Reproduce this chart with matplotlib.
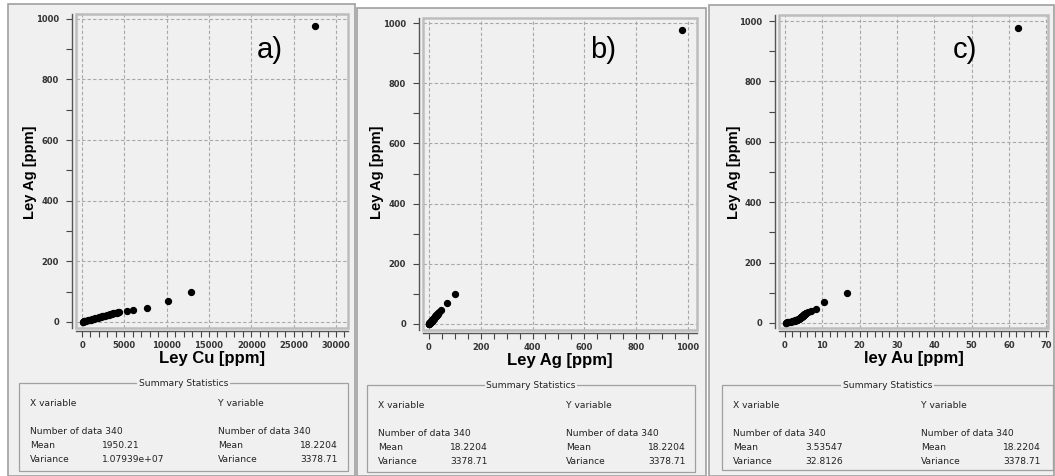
import matplotlib
matplotlib.use("Agg")
import matplotlib.pyplot as plt
from matplotlib.patches import Rectangle
from matplotlib.ticker import MultipleLocator

W, H = 1055, 476

# data (Ag shared by the three panels)
ley_ag = [0.5, 1, 1.5, 2, 3, 4, 5, 6, 7, 8, 9, 10, 11, 12, 13, 14, 15, 16, 17, 18,
          19, 20, 21, 22, 23, 24, 25, 26, 27, 28, 29, 30, 31, 32, 33, 36, 40, 46,
          69, 99, 977]
ley_cu = [60, 130, 200, 260, 400, 530, 660, 800, 930, 1060, 1190, 1320, 1450, 1590,
          1720, 1850, 1980, 2110, 2250, 2380, 2510, 2640, 2770, 2900, 3040, 3170,
          3300, 3430, 3560, 3700, 3830, 3960, 4090, 4220, 4370, 5300, 6000, 7700,
          10150, 12870, 27520]
ley_au = [0.2, 0.4, 0.6, 0.8, 1.2, 1.6, 2.0, 2.3, 2.6, 2.8, 3.0, 3.2, 3.35, 3.5,
          3.65, 3.8, 3.9, 4.0, 4.1, 4.2, 4.3, 4.4, 4.5, 4.6, 4.7, 4.8, 4.9, 5.0,
          5.1, 5.2, 5.3, 5.4, 5.5, 5.6, 5.7, 6.3, 7.0, 8.2, 10.5, 16.6, 62.5]

x_labels = ["Ley Cu [ppm]", "Ley Ag [ppm]", "ley Au [ppm]"]
letters = ["a)", "b)", "c)"]
stats_x = [("340", "1950.21", "1.07939e+07"),
           ("340", "18.2204", "3378.71"),
           ("340", "3.53547", "32.8126")]
stats_y = ("340", "18.2204", "3378.71")


def px(x, y):
    return x / W, 1 - y / H


def box(l, t, r, b):
    return [l / W, 1 - b / H, (r - l) / W, (b - t) / H]


fig = plt.figure(figsize=(W / 100, H / 100), dpi=100, facecolor="white")

# panel frames
panels = [(8, 4, 355, 476), (357, 8, 706, 476), (709, 5, 1054, 476)]
for l, t, r, b in panels:
    fig.add_artist(Rectangle(px(l, b), (r - l) / W, (b - t) / H, transform=fig.transFigure,
                             facecolor="#f0f0f0", edgecolor="#a0a0a0", lw=1.2, zorder=-5))

axes_pos = [(76, 14, 348, 328), (423, 18, 697, 330), (779, 15, 1048, 328)]
xlims = [(-710, 31420), (-23, 1035), (-1.6, 70.5)]
ylims = [(-20, 1016), (-20, 1017), (-17, 1020)]
xmajor = [5000, 200, 10]
xminor = [1000, 50, 2]
ylab_x = [30, 377, 734]
letter_x = [270, 603, 965]
xs = [ley_cu, ley_ag, ley_au]

for i in range(3):
    ax = fig.add_axes(box(*axes_pos[i]))
    ax.set_facecolor("#f0f0f0")
    ax.scatter(xs[i], ley_ag, s=18, color="black", zorder=3, clip_on=False)
    ax.set_xlim(*xlims[i])
    ax.set_ylim(*ylims[i])
    ax.xaxis.set_major_locator(MultipleLocator(xmajor[i]))
    ax.xaxis.set_minor_locator(MultipleLocator(xminor[i]))
    ax.yaxis.set_major_locator(MultipleLocator(200))
    ax.yaxis.set_minor_locator(MultipleLocator(100))
    ax.grid(True, which="major", color="#a8a8a8", lw=0.8, linestyle=(0, (3, 2)))
    ax.set_axisbelow(True)
    for s in ["top", "right"]:
        ax.spines[s].set_visible(False)
    ax.spines["left"].set_position(("outward", 3))
    ax.spines["bottom"].set_position(("outward", 2))
    for s in ["left", "bottom"]:
        ax.spines[s].set_color("#555555")
        ax.spines[s].set_linewidth(1.0)
    ax.add_patch(Rectangle((0, 0), 1, 1, transform=ax.transAxes, fill=False,
                           edgecolor="#bdbdbd", lw=1.8, clip_on=False, zorder=1))
    ax.tick_params(which="both", direction="out", length=4.3, width=0.8, color="#444444")
    ax.tick_params(axis="both", which="major", labelsize=6, labelcolor="#333333")
    ax.tick_params(axis="y", pad=5)
    ax.tick_params(axis="x", pad=3)
    for lab in ax.get_xticklabels() + ax.get_yticklabels():
        lab.set_fontweight("bold")
    ax.set_xlabel(x_labels[i], fontsize=12, fontweight="bold",
                  family="Liberation Sans", labelpad=1)
    fig.text(*px(ylab_x[i], 172), "Ley Ag [ppm]", rotation=90, ha="center", va="center",
             fontsize=10.5, fontweight="bold", family="Liberation Sans")
    fig.text(*px(letter_x[i], 50), letters[i], ha="center", va="center",
             fontsize=21, family="Liberation Sans")

# summary statistics boxes
stat_boxes = [(19, 383, 348, 471), (367, 385, 695, 472), (722, 385, 1053, 470)]
for i, (l, t, r, b) in enumerate(stat_boxes):
    fig.add_artist(Rectangle(px(l, b), (r - l) / W, (b - t) / H, transform=fig.transFigure,
                             fill=False, edgecolor="#a0a0a0", lw=0.9))
    kw = dict(fontsize=6.6, color="#222222", va="center")
    fig.text(*px((l + r) / 2, t), "Summary Statistics", ha="center",
             bbox=dict(facecolor="#f0f0f0", edgecolor="none", pad=1), **kw)
    fig.text(*px(l + 11, t + 20), "X variable", **kw)
    fig.text(*px(l + 199, t + 20), "Y variable", **kw)
    names = ["Number of data " + stats_x[i][0], "Mean", "Variance"]
    ynames = ["Number of data " + stats_y[0], "Mean", "Variance"]
    for j in range(3):
        yy = t + 49 + 13.5 * j
        fig.text(*px(l + 11, yy), names[j], **kw)
        fig.text(*px(l + 199, yy), ynames[j], **kw)
        if j > 0:
            fig.text(*px(l + 83, yy), stats_x[i][j], **kw)
            fig.text(*px(l + 319, yy), stats_y[j], ha="right", **kw)

fig.savefig("out.png", dpi=100, facecolor="white")
